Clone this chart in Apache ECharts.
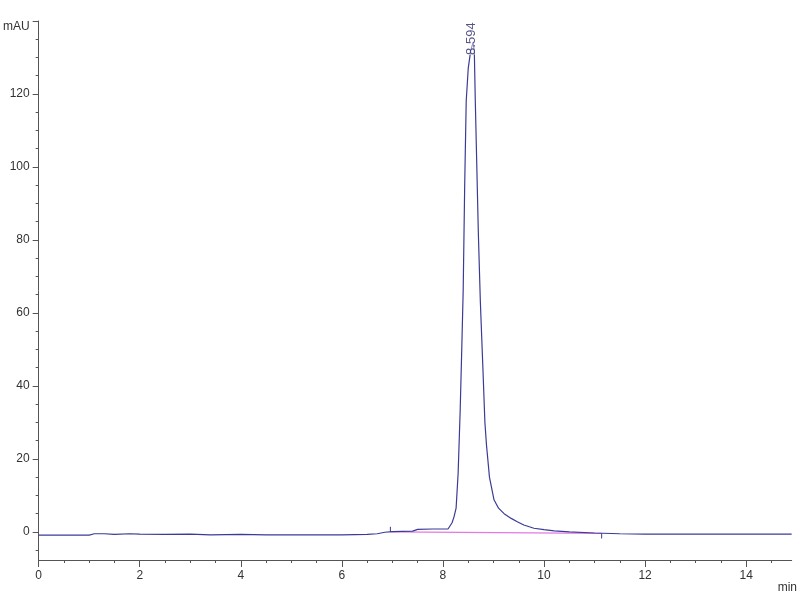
<!DOCTYPE html>
<html><head><meta charset="utf-8">
<script src="https://cdn.jsdelivr.net/npm/echarts@6/dist/echarts.min.js"></script>
<style>html,body{margin:0;padding:0;background:#fff}#c{width:800px;height:600px}</style>
</head><body><div id="c"></div>
<script>
// retention time (min) and absorbance (mAU)
const times = [0,0.5,1.0,1.1,1.3,1.5,1.8,2.0,2.5,3.0,3.4,4.0,4.5,5.0,5.5,6.0,6.5,6.7,6.85,7.0,7.4,7.5,7.8,8.1,8.13,8.18,8.22,8.26,8.30,8.34,8.37,8.40,8.43,8.46,8.50,8.55,8.594,8.62,8.64,8.67,8.70,8.74,8.79,8.83,8.86,8.92,9.01,9.10,9.21,9.35,9.47,9.60,9.80,10.0,10.2,10.5,11.0,11.5,12.0,13.0,14.0,14.9];
const signal = [-0.9,-0.9,-0.9,-0.5,-0.5,-0.7,-0.5,-0.6,-0.7,-0.6,-0.8,-0.7,-0.8,-0.8,-0.8,-0.8,-0.7,-0.5,-0.1,0.1,0.2,0.7,0.8,0.8,1.0,2.5,4.2,6.5,16,33,49,66,95,118,127,132,134,132,118,100,82,63,45,30,24,15,8.8,6.5,5.0,3.7,2.8,1.9,1.0,0.6,0.3,0.0,-0.3,-0.5,-0.6,-0.6,-0.6,-0.6];
// integration baseline (start, end)
const baseTimes = [6.96, 11.14];
const baseValues = [0.0, -0.4];
// peak annotation
const peakTime = 8.594;
const peakHeight = 134;
const peakLabel = '8.594';
// ticks
const yMajor = [0,20,40,60,80,100,120,140];
const yMinor = [-5,0,5,10,15,20,25,30,35,40,45,50,55,60,65,70,75,80,85,90,95,100,105,110,115,120,125,130,135,140];
const xMajor = [0,2,4,6,8,10,12,14];
const xMinor = [0,0.5,1,1.5,2,2.5,3,3.5,4,4.5,5,5.5,6,6.5,7,7.5,8,8.5,9,9.5,10,10.5,11,11.5,12,12.5,13,13.5,14,14.5];
const yName = 'mAU';
const xName = 'min';

const FONT = '"Liberation Sans Narrow","Liberation Sans",Arial,sans-serif';
const axisCol = '#555';
const chart = echarts.init(document.getElementById('c'));
const lineData = times.map((t,i)=>[t, signal[i]]);
const baseData = baseTimes.map((t,i)=>[t, baseValues[i]]);
const yMin = -7.7, yMax = 140, xMin = 0, xMax = 14.9;

chart.setOption({
  animation: false,
  grid: {left: 37, right: 3, top: 21, bottom: 40},
  xAxis: [
    {type:'value', min:xMin, max:xMax, position:'bottom',
     axisLine:{onZero:false, lineStyle:{color:axisCol}},
     axisTick:{customValues:xMinor, length:3, lineStyle:{color:axisCol}},
     axisLabel:{customValues:xMajor, color:'#333', fontFamily:FONT, fontSize:12, margin:10},
     splitLine:{show:false},
     name:xName, nameLocation:'end', nameGap:-14,
     nameTextStyle:{color:'#333', fontFamily:FONT, fontSize:12, verticalAlign:'top', padding:[22,0,0,0]}},
    {type:'value', min:xMin, max:xMax, position:'bottom',
     axisLine:{show:false, onZero:false},
     axisTick:{customValues:xMajor, length:7, lineStyle:{color:axisCol}},
     axisLabel:{show:false}, splitLine:{show:false}}
  ],
  yAxis: [
    {type:'value', min:yMin, max:yMax, position:'left',
     axisLine:{show:true, onZero:false, lineStyle:{color:axisCol}},
     axisTick:{show:true, customValues:yMinor, length:3, lineStyle:{color:axisCol}},
     axisLabel:{customValues:yMajor, color:'#333', fontFamily:FONT, fontSize:12, margin:9,
       formatter: v => v === 140 ? '{m|' + yName + '}' : String(v),
       rich:{m:{fontFamily:FONT, fontSize:12, color:'#333', padding:[12,0,0,0]}}},
     splitLine:{show:false}},
    {type:'value', min:yMin, max:yMax, position:'left',
     axisLine:{show:false, onZero:false},
     axisTick:{show:true, customValues:yMajor, length:6, lineStyle:{color:axisCol}},
     axisLabel:{show:false}, splitLine:{show:false}}
  ],
  series: [
    {type:'line', data: baseData, xAxisIndex:0, yAxisIndex:0, symbol:'none',
     lineStyle:{color:'#e27ae2', width:1.2}, z:1},
    {type:'line', data: [[baseTimes[0], baseValues[0]],[baseTimes[0], baseValues[0]+1.4]], symbol:'none',
     lineStyle:{color:'#3b3b96', width:1}, z:2},
    {type:'line', data: [[baseTimes[1], baseValues[1]],[baseTimes[1], baseValues[1]-1.4]], symbol:'none',
     lineStyle:{color:'#3b3b96', width:1}, z:2},
    {type:'line', data: lineData, xAxisIndex:0, yAxisIndex:0, symbol:'none',
     lineStyle:{color:'#3b3b96', width:1.2}, z:3},
    {type:'scatter', data:[[peakTime, peakHeight]], symbolSize:0, z:4,
     label:{show:true, position:[-2, 12], rotate:90, align:'left', verticalAlign:'middle',
       formatter: peakLabel, color:'#2b2b6a', fontFamily:FONT, fontSize:13,
       backgroundColor:'rgba(255,255,255,0.6)'}}
  ]
});
</script></body></html>
